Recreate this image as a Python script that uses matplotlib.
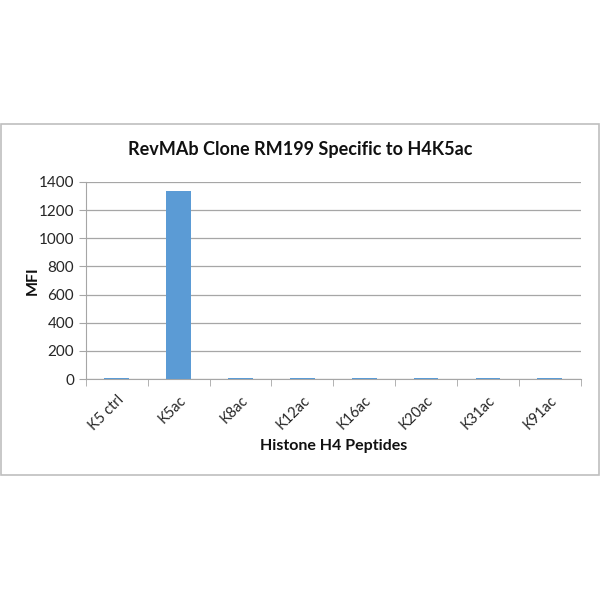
import matplotlib.pyplot as plt
from matplotlib.patches import Rectangle

peptides = ["K5 ctrl", "K5ac", "K8ac", "K12ac", "K16ac", "K20ac", "K31ac", "K91ac"]
mfi = [5, 1335, 5, 5, 5, 5, 5, 5]
yticks = [0, 200, 400, 600, 800, 1000, 1200, 1400]

plt.rcParams['font.family'] = ['Lato', 'DejaVu Sans']

fig = plt.figure(figsize=(6, 6), dpi=100)
# outer chart border
fig.patches.append(Rectangle((0.002, 0.208), 0.996, 0.585, transform=fig.transFigure,
                             fill=False, edgecolor='#bfbfbf', linewidth=1.2))

ax = fig.add_axes([0.143, 0.368, 0.825, 0.329])
x = range(len(peptides))
ax.bar(x, mfi, width=0.4, color='#5b9bd5', zorder=3)

ax.set_xlim(-0.5, len(peptides) - 0.5)
ax.set_ylim(0, 1400)
ax.set_yticks(yticks)
ax.yaxis.grid(True, color='#a6a6a6', linewidth=0.9)
ax.set_axisbelow(True)

ax.set_xticks(list(x))
ax.set_xticklabels(peptides, rotation=45, ha='right', rotation_mode='anchor')
ax.set_xticks([i - 0.5 for i in range(len(peptides) + 1)], minor=True)
ax.tick_params(axis='x', which='major', length=0, pad=10, labelsize=10.5)
ax.tick_params(axis='x', which='minor', length=5, color='#a6a6a6')
ax.tick_params(axis='y', length=5, color='#a6a6a6', labelsize=11, labelcolor='#262626')
for lab in ax.get_xticklabels():
    lab.set_color('#262626')

for s in ['top', 'right']:
    ax.spines[s].set_visible(False)
ax.spines['left'].set_color('#a6a6a6')
ax.spines['bottom'].set_color('#a6a6a6')

fig.text(0.5, 0.75, "RevMAb Clone RM199 Specific to H4K5ac", fontsize=13, fontweight='bold',
         ha='center', va='center', color='#111111')
ax.set_ylabel("MFI", fontsize=11.5, fontweight='bold', color='#111111')
ax.yaxis.set_label_coords(-0.093, 0.5)
ax.set_xlabel("Histone H4 Peptides", fontsize=11.5, fontweight='bold', labelpad=4, color='#111111')

fig.savefig("out.png", dpi=100)
